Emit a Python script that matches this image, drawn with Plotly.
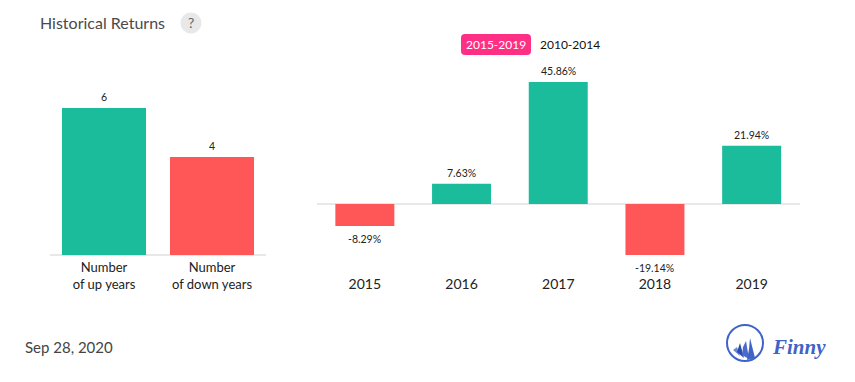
import plotly.graph_objects as go

W, H = 855, 382
# the page adds an 8 px body margin around the figure
OFFSET = 8

count_labels = ["Number<br>of up years", "Number<br>of down years"]
count_values = [6, 4]
count_text = ["6", "4"]

years = ["2015", "2016", "2017", "2018", "2019"]
returns = [-8.29, 7.63, 45.86, -19.14, 21.94]
return_text = ["-8.29%", "7.63%", "45.86%", "-19.14%", "21.94%"]

GREEN, RED = "#1abc9c", "#ff5757"
FONT = "Lato"
px = lambda x: (x - OFFSET) / W
py = lambda y: 1 - (y - OFFSET) / H


def colours(vals):
    return [GREEN if v >= 0 else RED for v in vals]


fig = go.Figure()
fig.add_bar(x=count_labels, y=count_values, marker=dict(color=[GREEN, RED], line_width=0),
            xaxis="x", yaxis="y", hoverinfo="skip")
fig.add_bar(x=years, y=returns, marker=dict(color=colours(returns), line_width=0),
            xaxis="x2", yaxis="y2", hoverinfo="skip", width=0.61)


def rounded(x0, y0, x1, y1, r):
    X = px
    Y = py
    return (f"M{X(x0+r)},{Y(y0)} L{X(x1-r)},{Y(y0)} Q{X(x1)},{Y(y0)} {X(x1)},{Y(y0+r)} "
            f"L{X(x1)},{Y(y1-r)} Q{X(x1)},{Y(y1)} {X(x1-r)},{Y(y1)} "
            f"L{X(x0+r)},{Y(y1)} Q{X(x0)},{Y(y1)} {X(x0)},{Y(y1-r)} "
            f"L{X(x0)},{Y(y0+r)} Q{X(x0)},{Y(y0)} {X(x0+r)},{Y(y0)} Z")


def poly(pts):
    return "M" + " L".join(f"{px(a)},{py(b)}" for a, b in pts) + " Z"


def ptext(x, y, s, size, color, anchor="left", family=FONT):
    return dict(xref="paper", yref="paper", x=px(x), y=py(y), text=s, showarrow=False,
                xanchor=anchor, yanchor="middle", font=dict(family=family, size=size, color=color))


def value_label(xa, ya, i, v, s):
    # i is the position along the category axis
    return dict(xref=xa, yref=ya, x=i, y=v, text=s, showarrow=False, yanchor="middle",
                yshift=11 if v >= 0 else -13, font=dict(family=FONT, size=10.5, color="#222"))


def path_shape(path, color):
    return dict(type="path", xref="paper", yref="paper", path=path, fillcolor=color, line_width=0)


LOGO = "#3f63c7"
shapes = [
    dict(type="circle", xref="paper", yref="paper", x0=px(180.5), x1=px(201.5), y0=py(33.5), y1=py(12.5),
         fillcolor="#e8e8e8", line_width=0, layer="below"),
    path_shape(rounded(461, 34, 531, 55, 4), "#ff2f85"),
    dict(type="circle", xref="paper", yref="paper", x0=px(727), x1=px(763), y0=py(361), y1=py(325),
         line=dict(color=LOGO, width=2), fillcolor="rgba(0,0,0,0)"),
    path_shape(poly([(733, 350), (737, 347), (740, 356)]), "#6d8ad8"),
    path_shape(poly([(740, 343), (744, 358), (737, 352)]), "#2a4bb0"),
    path_shape(poly([(746, 341), (749, 359), (742, 355), (743, 347)]), "#4a6bcb"),
    path_shape(poly([(750, 338), (755, 358), (747, 360), (749, 349)]), "#3f63c7"),
]

annotations = [
    ptext(38, 22.5, "Historical Returns", 16, "#4a4a4a"),
    ptext(191, 23, "?", 14, "#666", anchor="center"),
    ptext(496, 44.5, "2015-2019", 12, "#ffffff", anchor="center"),
    ptext(570, 44.5, "2010-2014", 12, "#111111", anchor="center"),
    ptext(23, 347, "Sep 28, 2020", 15, "#444444"),
    ptext(770, 347, "<b><i>Finny</i></b>", 21, LOGO, family="Liberation Serif"),
]
annotations += [value_label("x", "y", i, v, s) for i, (v, s) in enumerate(zip(count_values, count_text))]
annotations += [value_label("x2", "y2", i, v, s) for i, (v, s) in enumerate(zip(returns, return_text))]

fig.update_layout(
    width=W, height=H, autosize=False, margin=dict(l=0, r=0, t=0, b=0),
    paper_bgcolor="white", plot_bgcolor="white", showlegend=False,
    font=dict(family=FONT), bargap=0.222,
    shapes=shapes, annotations=annotations,
    xaxis=dict(type="category", domain=[px(50), px(266)], showgrid=False, zeroline=False, showline=False, ticks="",
               ticklabelstandoff=3, tickfont=dict(family=FONT, size=13, color="#222"), fixedrange=True),
    yaxis=dict(domain=[py(255), py(80)], range=[0, 175 / 24.5], showticklabels=False,
               showgrid=False, zeroline=True, zerolinecolor="#e8e8e8", zerolinewidth=2, ticks="", fixedrange=True),
    xaxis2=dict(type="category", domain=[px(316.5), px(800)], anchor="y2", showgrid=False, zeroline=False, showline=False, ticks="",
                ticklabelstandoff=4, tickfont=dict(family=FONT, size=14, color="#222"), fixedrange=True),
    yaxis2=dict(domain=[py(270), py(60)], range=[-66 / 2.66, 144 / 2.66], anchor="x2", showticklabels=False,
                showgrid=False, zeroline=True, zerolinecolor="#e8e8e8", zerolinewidth=2, ticks="", fixedrange=True),
)
fig.write_html("out.html", config=dict(displayModeBar=False))
